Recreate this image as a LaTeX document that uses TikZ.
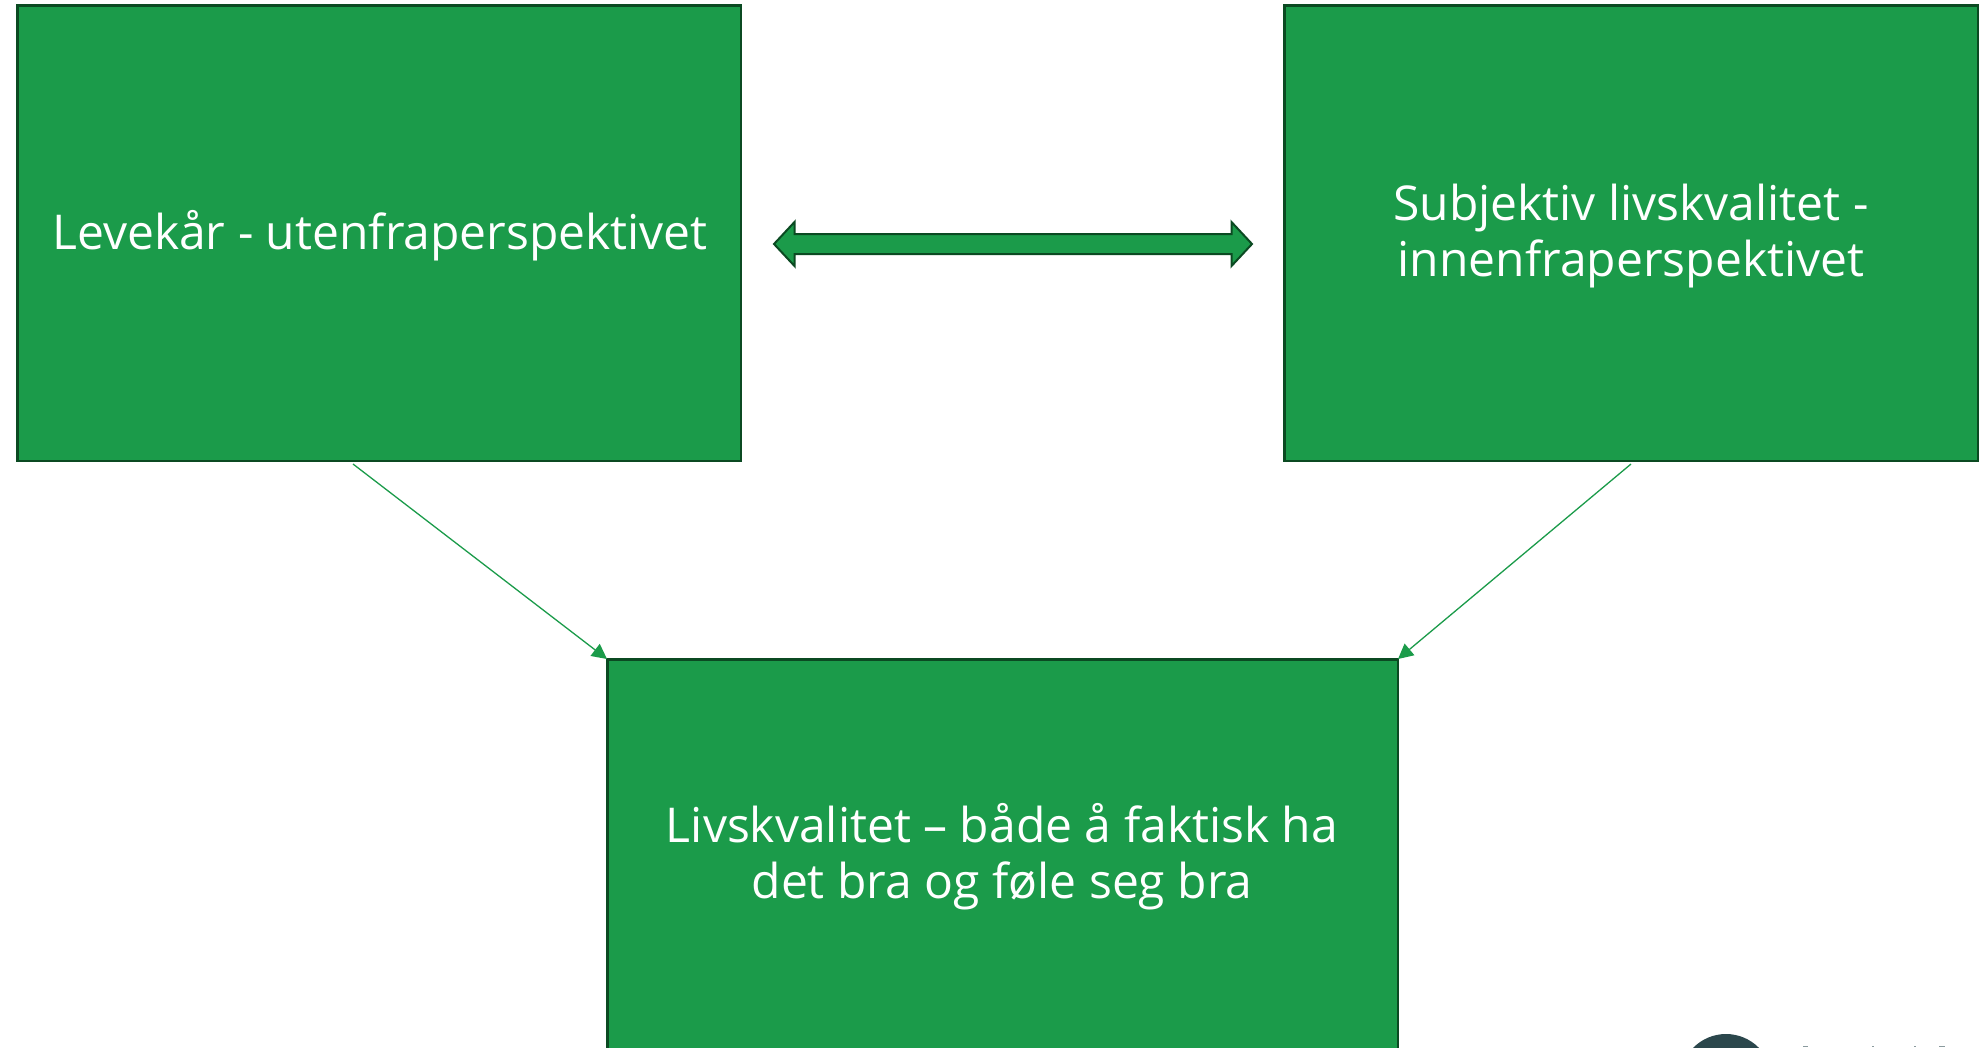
\documentclass[tikz,border=0pt]{standalone}
\usepackage{fontspec}
\setmainfont{Open Sans}
\usetikzlibrary{arrows.meta}
\definecolor{boxgreen}{HTML}{1B9B4A}
\definecolor{boxedge}{HTML}{0B4A22}
\definecolor{logoteal}{HTML}{2B474C}
\tikzset{
  greenbox/.style={draw=boxedge,fill=boxgreen,line width=2.6pt},
  boxlabel/.style={text=white,font=\fontsize{48}{56}\selectfont,align=center},
  link/.style={draw=boxgreen,line width=1.3pt,-{Triangle[length=15pt,width=15pt]}},
  logomark/.style={fill=logoteal!55},
}
\begin{document}
\begin{tikzpicture}[x=1pt,y=-1pt]
\useasboundingbox (0,0) rectangle (1980,1047);
\begin{scope}
\clip (0,0) rectangle (1980,1047);
\path[greenbox] (17.5,5.5) rectangle (741,461);
\path[greenbox] (1284.5,5.5) rectangle (1978,461);
\path[greenbox] (607.5,659.5) rectangle (1398,1100);
\fill[logoteal] (1726,1080) circle (46);
\fill[logomark] (1803,1046) rectangle (1808,1047);
\fill[logomark] (1872,1046) rectangle (1874,1047);
\fill[logomark] (1914,1046) rectangle (1916,1047);
\fill[logomark] (1939,1046) rectangle (1945,1047);
\end{scope}
\node[boxlabel] (a) at (380,236) {Levekår - utenfraperspektivet};
\node[boxlabel] (b) at (1631,236) {Subjektiv livskvalitet -\\innenfraperspektivet};
\node[boxlabel] (c) at (1002,857) {Livskvalitet – både å faktisk ha\\det bra og føle seg bra};
\coordinate (as) at (353,464);
\coordinate (bs) at (1631,464);
\coordinate (ct) at (607,659);
\coordinate (cr) at (1398,659);
\draw[link] (as) -- (ct);
\draw[link] (bs) -- (cr);
\draw[draw=boxedge,fill=boxgreen,line width=2pt,line join=miter]
  (774,244) -- (794.5,222) -- (794.5,234) -- (1231.5,234) -- (1231.5,222) -- (1252,244)
  -- (1231.5,266) -- (1231.5,254) -- (794.5,254) -- (794.5,266) -- cycle;
\end{tikzpicture}
\end{document}
